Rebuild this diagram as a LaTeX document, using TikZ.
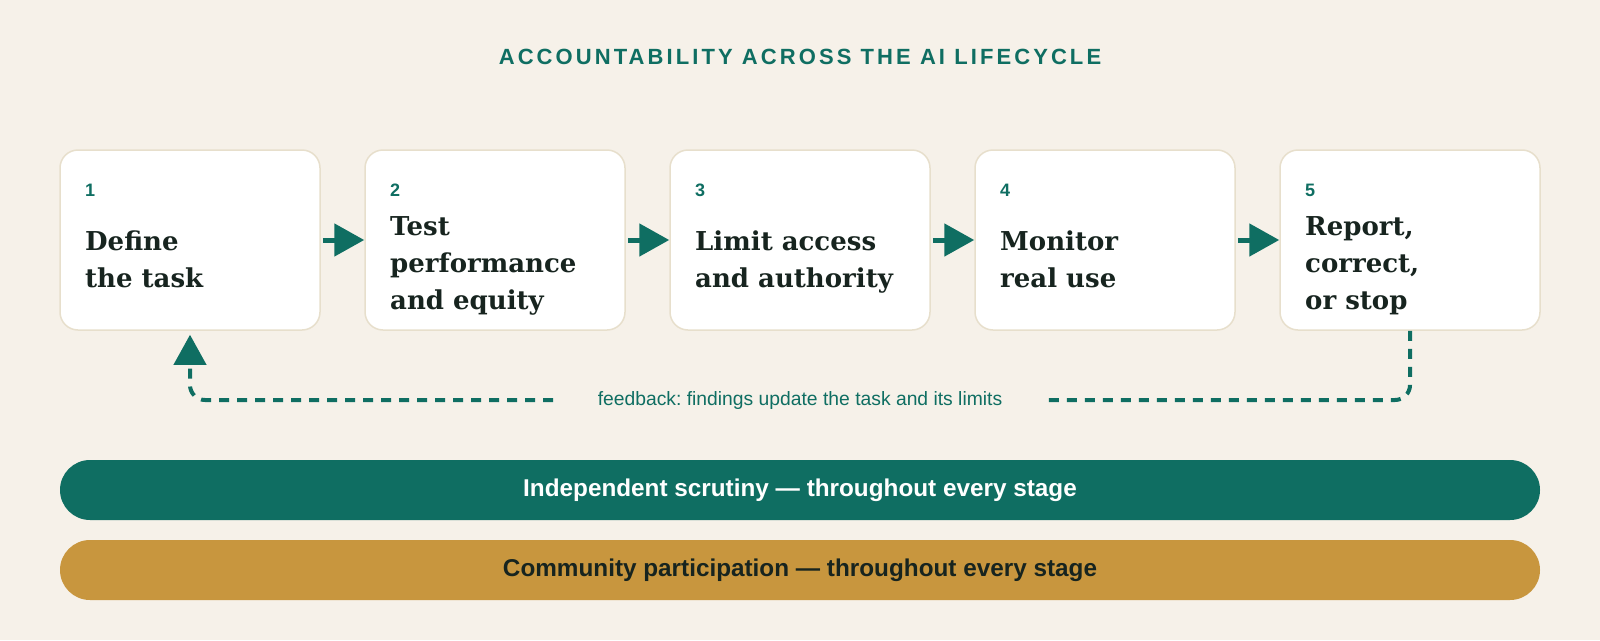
\documentclass[tikz,border=0pt]{standalone}
\usepackage{fontspec}
\setmainfont{Liberation Sans}
\newfontfamily\titlefont{DejaVu Serif}
\newfontfamily\headfont{Liberation Sans}[LetterSpace=14]
\usetikzlibrary{arrows.meta}
\frenchspacing
\definecolor{bg}{HTML}{F6F1E9}
\definecolor{teal}{HTML}{0F6E62}
\definecolor{gold}{HTML}{C8963E}
\definecolor{ink}{HTML}{17241F}
\definecolor{edge}{HTML}{E7DFCC}
\newcommand\boxtitle[1]{\parbox[t]{240pt}{\raggedright\titlefont\bfseries\fontsize{26}{37}\selectfont #1}}
\tikzset{
  stepbox/.style={draw=edge, line width=1.5pt, fill=white, rounded corners=18pt,
    minimum width=260pt, minimum height=180pt, inner sep=0pt},
  numlbl/.style={anchor=base west, inner sep=0pt, text=teal,
    font=\fontsize{18}{20}\selectfont\bfseries},
  ttl/.style={anchor=base west, inner sep=0pt, text=ink},
  flowarrow/.style={draw=teal, line width=5pt, -{Triangle[length=30pt,width=32pt]}},
  fb/.style={draw=teal, line width=4pt, dash pattern=on 10pt off 8pt},
  fbtext/.style={text=teal, inner sep=0pt, font=\fontsize{19.3}{22}\selectfont},
  bar/.style={rounded corners=30pt, minimum width=1480pt, minimum height=60pt,
    inner sep=0pt, font=\fontsize{24.3}{28}\selectfont\bfseries},
}
\begin{document}
\begin{tikzpicture}[x=1pt,y=-1pt]
\useasboundingbox (0,0) rectangle (1600,640);
\fill[bg] (0,0) rectangle (1600,640);
% heading
\node[anchor=base, inner sep=0pt, text=teal, font=\headfont\bfseries\fontsize{22}{26}\selectfont] (head) at (800,64) {ACCOUNTABILITY ACROSS THE AI LIFECYCLE};
% boxes
\node[stepbox] (b1) at (190,240) {};
\node[stepbox] (b2) at (495,240) {};
\node[stepbox] (b3) at (800,240) {};
\node[stepbox] (b4) at (1105,240) {};
\node[stepbox] (b5) at (1410,240) {};
% numbers
\node[numlbl] (n1) at (85,196) {1};
\node[numlbl] (n2) at (390,196) {2};
\node[numlbl] (n3) at (695,196) {3};
\node[numlbl] (n4) at (1000,196) {4};
\node[numlbl] (n5) at (1305,196) {5};
% titles
\node[ttl] (t1) at (85,250) {\boxtitle{Define\\the task}};
\node[ttl] (t2) at (390,235) {\boxtitle{Test\\performance\\and equity}};
\node[ttl] (t3) at (695,250) {\boxtitle{Limit access\\and authority}};
\node[ttl] (t4) at (1000,250) {\boxtitle{Monitor\\real use}};
\node[ttl] (t5) at (1305,235) {\boxtitle{Report,\\correct,\\or stop}};
% flow arrows
\draw[flowarrow] ([xshift=2pt]b1.east) -- (b2.west);
\draw[flowarrow] ([xshift=2pt]b2.east) -- (b3.west);
\draw[flowarrow] ([xshift=2pt]b3.east) -- (b4.west);
\draw[flowarrow] ([xshift=2pt]b4.east) -- (b5.west);
% feedback loop
\coordinate (fr) at (1046,400);
\coordinate (fl) at (553,400);
\draw[fb, rounded corners=15pt] (b5.south) |- (fr);
\draw[fb, rounded corners=15pt, -{Triangle[length=30pt,width=32pt]}, shorten >=4pt] (fl) -| (b1.south);
\node[fbtext] (fbl) at (800,401) {feedback: findings update the task and its limits};
% bars
\node[bar, fill=teal, text=white] (s1) at (800,490) {Independent scrutiny — throughout every stage};
\node[bar, fill=gold, text=ink] (s2) at (800,570) {Community participation — throughout every stage};
\end{tikzpicture}
\end{document}
